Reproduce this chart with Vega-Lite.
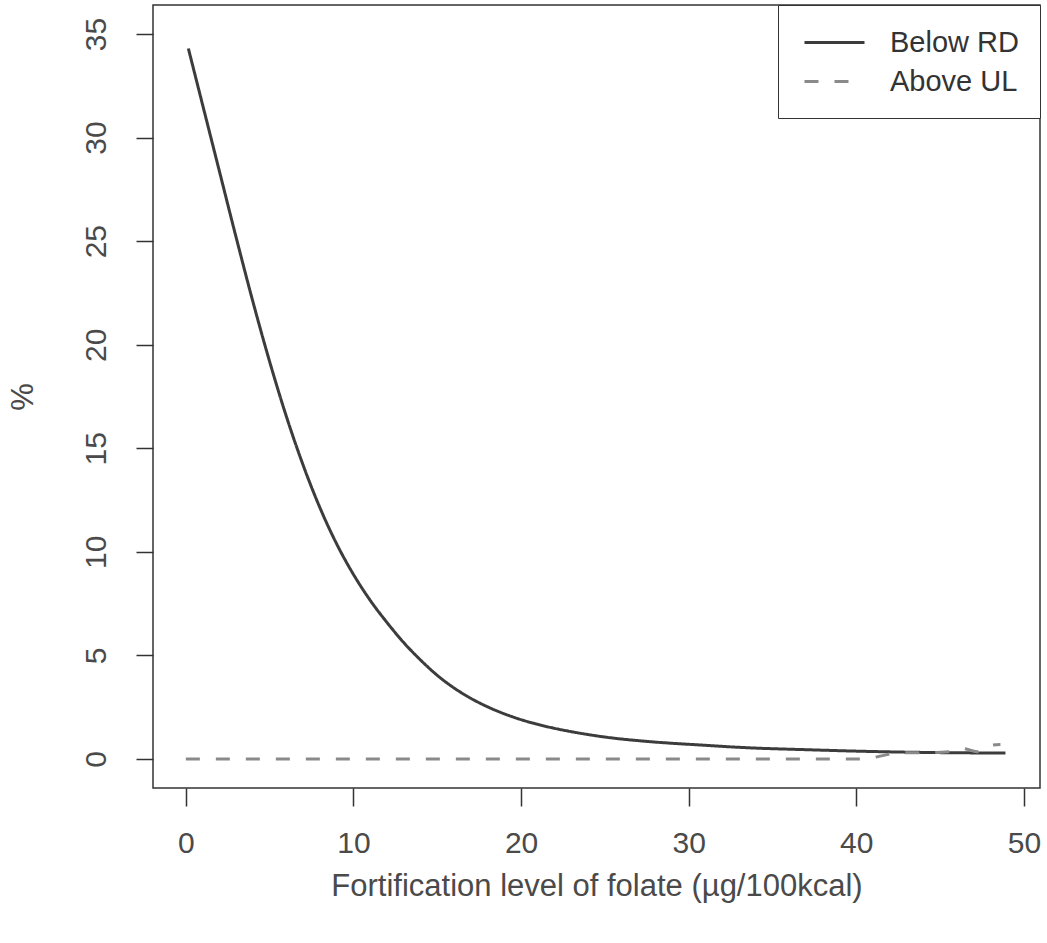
{
  "$schema": "https://vega.github.io/schema/vega-lite/v6.json",
  "width": 887,
  "height": 783,
  "autosize": {"type": "none"},
  "padding": {"left": 153, "top": 5, "right": 7, "bottom": 155},
  "background": "white",
  "config": {
    "view": {"stroke": "#333333", "strokeWidth": 1.5},
    "font": "Liberation Sans",
    "axis": {
      "grid": false,
      "domain": false,
      "tickColor": "#333333",
      "tickWidth": 1.5,
      "labelFont": "Liberation Sans",
      "labelFontSize": 30,
      "labelColor": "#4a4a4a",
      "titleFont": "Liberation Sans",
      "titleFontSize": 31,
      "titleFontWeight": "normal",
      "titleColor": "#4a4a4a"
    }
  },
  "data": {
    "values": [
      {"series": "Below RD", "x": 0.15, "y": 34.3},
      {"series": "Below RD", "x": 1.0, "y": 31.58},
      {"series": "Below RD", "x": 2.0, "y": 28.38},
      {"series": "Below RD", "x": 3.0, "y": 25.18},
      {"series": "Below RD", "x": 4.0, "y": 22.08},
      {"series": "Below RD", "x": 5.0, "y": 19.18},
      {"series": "Below RD", "x": 6.0, "y": 16.53},
      {"series": "Below RD", "x": 7.0, "y": 14.18},
      {"series": "Below RD", "x": 8.0, "y": 12.13},
      {"series": "Below RD", "x": 9.0, "y": 10.38},
      {"series": "Below RD", "x": 10.0, "y": 8.91},
      {"series": "Below RD", "x": 11.0, "y": 7.66},
      {"series": "Below RD", "x": 12.0, "y": 6.59},
      {"series": "Below RD", "x": 13.0, "y": 5.62},
      {"series": "Below RD", "x": 14.0, "y": 4.78},
      {"series": "Below RD", "x": 15.0, "y": 4.04},
      {"series": "Below RD", "x": 16.0, "y": 3.43},
      {"series": "Below RD", "x": 17.0, "y": 2.93},
      {"series": "Below RD", "x": 18.0, "y": 2.52},
      {"series": "Below RD", "x": 19.0, "y": 2.18},
      {"series": "Below RD", "x": 20.0, "y": 1.9},
      {"series": "Below RD", "x": 21.0, "y": 1.67},
      {"series": "Below RD", "x": 22.0, "y": 1.48},
      {"series": "Below RD", "x": 23.0, "y": 1.32},
      {"series": "Below RD", "x": 24.0, "y": 1.18},
      {"series": "Below RD", "x": 25.0, "y": 1.06},
      {"series": "Below RD", "x": 27.5, "y": 0.85},
      {"series": "Below RD", "x": 30.6, "y": 0.68},
      {"series": "Below RD", "x": 33.6, "y": 0.54},
      {"series": "Below RD", "x": 37.0, "y": 0.45},
      {"series": "Below RD", "x": 40.0, "y": 0.38},
      {"series": "Below RD", "x": 43.0, "y": 0.33},
      {"series": "Below RD", "x": 46.0, "y": 0.3},
      {"series": "Below RD", "x": 48.9, "y": 0.29},
      {"series": "Above UL", "x": 0.0, "y": 0.0},
      {"series": "Above UL", "x": 40.5, "y": 0.0},
      {"series": "Above UL", "x": 41.5, "y": 0.15},
      {"series": "Above UL", "x": 42.5, "y": 0.3},
      {"series": "Above UL", "x": 44.0, "y": 0.3},
      {"series": "Above UL", "x": 45.5, "y": 0.35},
      {"series": "Above UL", "x": 46.4, "y": 0.5},
      {"series": "Above UL", "x": 47.2, "y": 0.35},
      {"series": "Above UL", "x": 48.0, "y": 0.65},
      {"series": "Above UL", "x": 48.6, "y": 0.7}
    ]
  },
  "mark": {"type": "line", "strokeWidth": 3, "strokeCap": "butt", "interpolate": "monotone"},
  "encoding": {
    "x": {
      "field": "x",
      "type": "quantitative",
      "scale": {"domain": [-1.96, 50.96], "nice": false, "zero": false},
      "axis": {
        "values": [0, 10, 20, 30, 40, 50],
        "tickSize": 18,
        "labelPadding": 22,
        "titlePadding": 13,
        "title": "Fortification level of folate (µg/100kcal)"
      }
    },
    "y": {
      "field": "y",
      "type": "quantitative",
      "scale": {"domain": [-1.4, 36.4], "nice": false, "zero": false},
      "axis": {
        "values": [0, 5, 10, 15, 20, 25, 30, 35],
        "tickSize": 17,
        "labelAngle": -90,
        "labelAlign": "center",
        "labelBaseline": "alphabetic",
        "labelPadding": 31,
        "titlePadding": 42,
        "title": "%"
      }
    },
    "color": {
      "field": "series",
      "type": "nominal",
      "scale": {"domain": ["Below RD", "Above UL"], "range": ["#3c3c3c", "#8a8a8a"]},
      "legend": {
        "title": null,
        "orient": "top-right",
        "offset": 0,
        "padding": 21,
        "symbolOffset": 19,
        "strokeColor": "#333333",
        "fillColor": "white",
        "symbolType": "M-2,0H2",
        "symbolSize": 900,
        "symbolStrokeWidth": 3,
        "labelFontSize": 29,
        "labelFont": "Liberation Sans",
        "labelColor": "#333333",
        "labelOffset": 39,
        "rowPadding": 7
      }
    },
    "strokeDash": {
      "field": "series",
      "type": "nominal",
      "scale": {"domain": ["Below RD", "Above UL"], "range": [[1, 0], [14, 16]]},
      "legend": {
        "title": null,
        "orient": "top-right",
        "offset": 0,
        "padding": 21,
        "symbolOffset": 19,
        "strokeColor": "#333333",
        "fillColor": "white",
        "symbolType": "M-2,0H2",
        "symbolSize": 900,
        "symbolStrokeWidth": 3,
        "labelFontSize": 29,
        "labelFont": "Liberation Sans",
        "labelColor": "#333333",
        "labelOffset": 39,
        "rowPadding": 7
      }
    }
  }
}
